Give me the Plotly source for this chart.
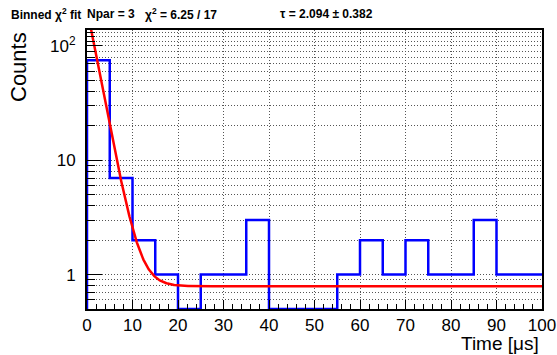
import numpy as np
import plotly.graph_objects as go

# Histogram: decay times in 5 us bins
bin_low = [0, 5, 10, 15, 20, 25, 30, 35, 40, 45, 50, 55, 60, 65, 70, 75, 80, 85, 90, 95]
bin_width = 5
counts = [75, 7, 2, 1, 0, 1, 1, 3, 0, 0, 0, 1, 2, 1, 2, 1, 1, 3, 1, 1]

# Fit result: f(t) = N0 * exp(-t / tau) + C
tau = 2.094
tau_err = 0.382
n0 = 210.0
const = 0.79
chi2 = 6.25
ndf = 17
npar = 3

y_min, y_max = 0.5, 138.0
x_min, x_max = 0, 100

W, H = 557, 355
ML, MR, MT, MB = 87, 15, 30, 46
PW, PH = W - ML - MR, H - MT - MB

# step outline (empty bins sit on the lower frame edge)
shown = [c if c > 0 else y_min for c in counts]
edges = bin_low + [bin_low[-1] + bin_width]
hx = [edges[0]] + edges
hy = [y_min] + shown + [shown[-1]]

t = np.linspace(x_min, x_max, 2001)
ft = n0 * np.exp(-t / tau) + const

fig = go.Figure()
fig.add_trace(go.Scatter(x=hx, y=hy, mode="lines", line=dict(color="#0000ff", width=2.5, shape="hv"),
                         hoverinfo="skip", showlegend=False))
fig.add_trace(go.Scatter(x=t, y=ft, mode="lines", line=dict(color="#ff0000", width=2.5),
                         hoverinfo="skip", showlegend=False))

font = "Liberation Sans, Arial, Helvetica, sans-serif"
dots = "1px,2px"
gcol = "#555555"
grid = dict(showgrid=True, gridcolor=gcol, gridwidth=1, griddash=dots)

y_minor = [v * 10 ** d for d in (-1, 0, 1, 2) for v in range(2, 10)]
y_minor = [v for v in y_minor if y_min <= v <= y_max and v not in (1, 10, 100)] + [110, 120, 130]

fig.update_xaxes(range=[x_min, x_max], tickmode="array", tickvals=list(range(0, 101, 10)),
                 ticks="inside", ticklen=9, tickwidth=1, tickcolor="black", automargin=False,
                 minor=dict(tickmode="array", tickvals=[v for v in range(0, 101, 2) if v % 10],
                            ticks="inside", ticklen=5, tickcolor="black", showgrid=False),
                 showline=True, linecolor="black", linewidth=2, mirror=True, zeroline=False,
                 tickfont=dict(family=font, size=17, color="black"), **grid)
fig.update_yaxes(type="log", range=[np.log10(y_min), np.log10(y_max)], tickmode="array",
                 tickvals=[1, 10, 100], ticktext=["1", "10", "10<sup>2</sup>"],
                 ticks="inside", ticklen=15, tickwidth=1, tickcolor="black", ticklabelstandoff=6,
                 automargin=False,
                 minor=dict(tickmode="array", tickvals=y_minor, ticks="inside", ticklen=8,
                            tickcolor="black", showgrid=True, gridcolor=gcol, griddash=dots),
                 showline=True, linecolor="black", linewidth=2, mirror=True, zeroline=False,
                 tickfont=dict(family=font, size=17, color="black"), **grid)


def px(xp):
    return (xp - ML) / PW


def py(yp):
    return 1 - (yp - MT) / PH


ann = []
hdr = dict(family=font, size=12, color="black")
for x0, txt in [(9, "<b>Binned χ<sup>2</sup> fit</b>"), (85, f"<b>Npar = {npar}</b>"),
                (143, f"<b>χ<sup>2</sup> = {chi2:.2f} / {ndf}</b>"),
                (278, f"<b>τ = {tau:.3f} ± {tau_err:.3f}</b>")]:
    ann.append(dict(x=px(x0), y=py(14), xref="paper", yref="paper", text=txt, showarrow=False,
                    xanchor="left", yanchor="middle", font=hdr))
ann.append(dict(x=px(18), y=py(30), xref="paper", yref="paper", text="Counts", showarrow=False,
                textangle=-90, xanchor="center", yanchor="top",
                font=dict(family=font, size=22, color="black")))
ann.append(dict(x=px(541), y=py(343), xref="paper", yref="paper", text="Time [μs]", showarrow=False,
                xanchor="right", yanchor="middle",
                font=dict(family=font, size=19, color="black")))

fig.update_layout(width=W, height=H, margin=dict(l=ML, r=MR, t=MT, b=MB, autoexpand=False),
                  paper_bgcolor="white", plot_bgcolor="white", annotations=ann,
                  showlegend=False)

fig.write_html("out.html")
